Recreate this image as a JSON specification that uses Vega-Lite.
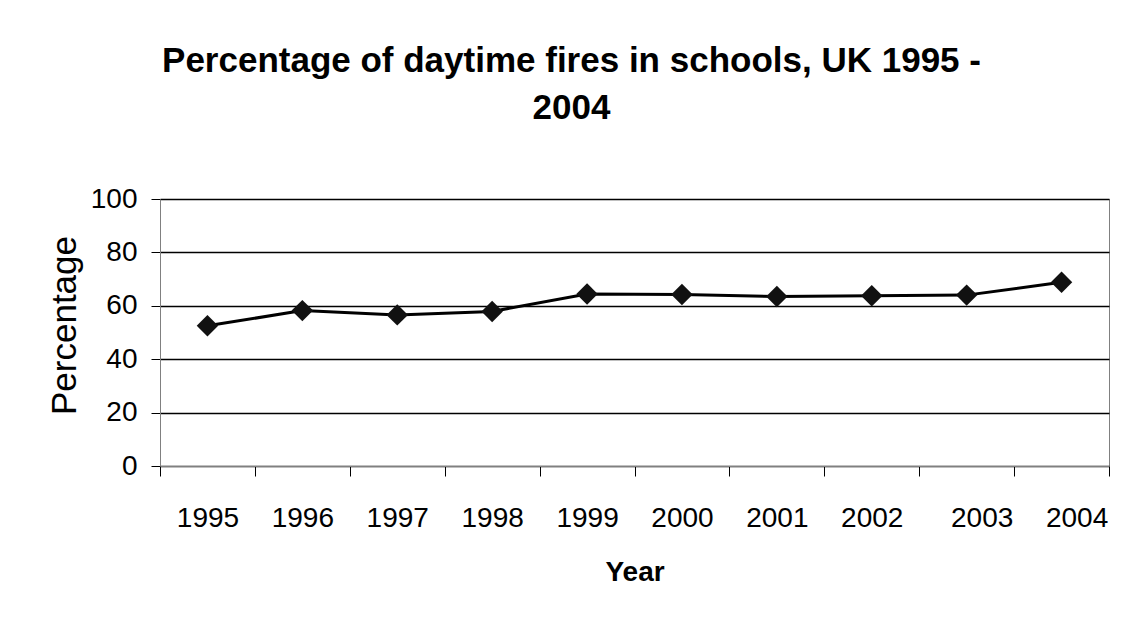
{
  "$schema": "https://vega.github.io/schema/vega-lite/v6.json",
  "autosize": "none",
  "width": 949,
  "height": 267,
  "padding": {"left": 160, "top": 199, "right": 17, "bottom": 152},
  "background": "white",
  "title": {
    "text": ["Percentage of daytime fires in schools, UK 1995 -", "2004"],
    "anchor": "middle",
    "frame": "group",
    "dx": -63,
    "font": "Liberation Sans",
    "fontSize": 35,
    "fontWeight": "bold",
    "lineHeight": 47,
    "color": "#000000",
    "offset": 59
  },
  "config": {
    "view": {"stroke": "#808080", "strokeWidth": 1},
    "axis": {
      "labelFont": "Liberation Sans",
      "titleFont": "Liberation Sans",
      "labelColor": "#000000",
      "titleColor": "#000000",
      "tickColor": "#000000",
      "domainColor": "#808080"
    }
  },
  "data": {
    "values": [
      {"year": "1995", "pct": 52.5},
      {"year": "1996", "pct": 58.2},
      {"year": "1997", "pct": 56.6},
      {"year": "1998", "pct": 57.9},
      {"year": "1999", "pct": 64.4},
      {"year": "2000", "pct": 64.2},
      {"year": "2001", "pct": 63.5},
      {"year": "2002", "pct": 63.8},
      {"year": "2003", "pct": 64.0},
      {"year": "2004", "pct": 68.8}
    ]
  },
  "encoding": {
    "x": {
      "field": "year",
      "type": "ordinal",
      "scale": {"type": "band", "paddingInner": 0, "paddingOuter": 0},
      "axis": {
        "title": "Year",
        "titleFontSize": 28,
        "titleFontWeight": "bold",
        "titlePadding": 26,
        "labelFontSize": 28,
        "labelAngle": 0,
        "labelPadding": 28,
        "labelOffset": {"condition": {"test": "datum.value == '2003' || datum.value == '2004'", "value": 15}, "value": 0},
        "tickBand": "extent",
        "tickSize": 10,
        "tickWidth": 1,
        "grid": false,
        "domainColor": "#808080"
      }
    },
    "y": {
      "field": "pct",
      "type": "quantitative",
      "scale": {"domain": [0, 100], "nice": false, "zero": true},
      "axis": {
        "title": "Percentage",
        "titleFontSize": 35,
        "titleFontWeight": "normal",
        "titlePadding": 8,
        "titleY": 126,
        "labelFontSize": 28,
        "labelPadding": 14,
        "values": [0, 20, 40, 60, 80, 100],
        "tickSize": 9,
        "grid": true,
        "gridColor": "#000000",
        "gridWidth": 1.3,
        "gridOpacity": 1
      }
    }
  },
  "layer": [
    {"mark": {"type": "line", "color": "#000000", "strokeWidth": 3}},
    {"mark": {"type": "point", "shape": "diamond", "filled": true, "size": 460, "color": "#111111", "opacity": 1}}
  ]
}
